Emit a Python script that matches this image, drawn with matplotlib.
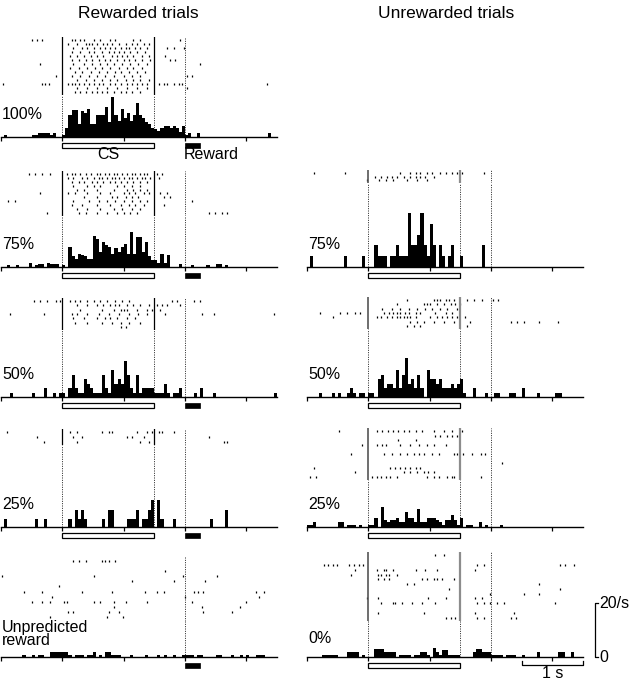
import numpy as np
import matplotlib
matplotlib.use("Agg")
import matplotlib.pyplot as plt
from matplotlib.patches import Rectangle

plt.rcParams['font.family'] = ['Liberation Sans', 'DejaVu Sans']

W, H = 631, 682
PX_PER_RATE = 2.7          # 20 spikes/s = 54 px
BIN = 0.05                 # 50 ms PSTH bins
T_START, T_END = -1.0, 3.5
CS_ON, CS_OFF, REWARD_T, REWARD_DUR = 0.0, 1.5, 2.0, 0.24

# -------------------------------------------------------------
# PSTH rates (spikes/s), 90 bins of 50 ms from -1 s to 3.5 s
# -------------------------------------------------------------
rates_rew_100 = [0, 0.7, 0, 0, 0, 0, 0, 0, 0, 0,
                 0.7, 0.7, 1.5, 1.5, 1.5, 1.5, 0.7, 1.5, 0, 0,
                 0.7, 3.5, 8, 10, 10, 5, 9.5, 9, 10.5, 5,
                 5, 8.3, 8.3, 8.3, 11, 5.5, 15, 8, 6, 10.5,
                 7, 9, 6, 8, 12.5, 8, 7, 5.5, 5, 3.5,
                 3, 2.3, 3.5, 4, 4, 3.5, 4, 3.5, 2, 4,
                 0.7, 1.5, 0, 0, 1.5, 0, 0, 0, 0, 0,
                 0, 0, 0, 0, 0, 0, 0, 0, 0, 0,
                 0, 0, 0, 0, 0, 0, 0, 1.5, 0, 0]
rates_rew_75 = [0, 0, 0.7, 0, 0, 0.7, 0, 0, 0, 1.5,
                0, 0.7, 1, 1, 0, 1.5, 1, 1, 1, 0,
                0.7, 0, 7.4, 4, 3, 5, 4.5, 4, 3, 3,
                11.6, 10.5, 5.5, 9.3, 8, 7.5, 5, 7, 5.5, 7.5,
                8.5, 5, 13, 5, 11, 11, 5.5, 9.3, 4, 2.5,
                2.5, 1.5, 5, 1.5, 4.5, 0, 0, 0, 1, 0,
                0, 0, 0.7, 0, 0, 0, 0, 0.7, 0, 0,
                1, 1, 0, 0.7, 0, 0, 0, 0, 0, 0,
                0, 0, 0, 0, 0, 0, 0, 0, 0, 0]
rates_rew_50 = [0, 0, 0, 1.5, 0, 0, 0, 0, 0, 0,
                1.5, 0, 0, 0, 3.3, 0, 0, 1.5, 0, 1.5,
                1.5, 0, 3.3, 8, 3.3, 1.5, 1.5, 6.7, 4.8, 3.3,
                1.5, 1.5, 1.5, 8, 3.3, 1.5, 10, 4.8, 6.7, 4.8,
                13.5, 8, 3.3, 1.5, 8, 1.5, 3.3, 3.3, 3.3, 3.3,
                1.5, 1.5, 1.5, 4.8, 1.5, 0, 1.5, 1.5, 3.3, 0,
                0, 0, 0, 1.5, 0, 3.3, 0, 0, 0, 1.5,
                0, 0, 0, 0, 0, 0, 0, 0, 0, 0,
                0, 0, 0, 0, 0, 0, 0, 0, 0, 1.5]
rates_rew_25 = [0, 3, 0, 0, 0, 0, 0, 0, 0, 0,
                0, 3, 0, 0, 3, 0, 0, 0, 0, 0,
                0, 0, 3, 0, 6.4, 3, 6.4, 3, 0, 0,
                0, 0, 0, 3, 0, 6.4, 6.4, 0, 0, 0,
                0, 3, 3, 3, 6.4, 0, 3, 3, 6.4, 10,
                0, 10, 3, 0, 0, 0, 3, 0, 0, 0,
                0, 0, 0, 0, 0, 0, 0, 0, 3, 0,
                0, 0, 0, 6.4, 0, 0, 0, 0, 0, 0,
                0, 0, 0, 0, 0, 0, 0, 0, 0, 0]
rates_rew_free = [0, 0, 0, 0, 0, 0, 0, 0.9, 0, 0,
                  0.9, 0, 0.9, 0.9, 0, 0, 1.7, 1.7, 1.7, 1.7,
                  1.7, 1.7, 0.9, 0, 0.9, 0.9, 0.9, 0, 0.9, 0.9,
                  1.7, 0, 0.9, 0, 1.7, 1.7, 0.9, 0.9, 0.9, 0,
                  0, 0, 0.9, 0, 0, 0, 0, 0.9, 0, 0,
                  0, 0.9, 0, 0.9, 0, 0, 0.9, 0, 0, 0.9,
                  0.9, 0.9, 0.9, 0, 0.9, 0.9, 0, 0, 0, 0,
                  0.9, 0.9, 0, 0, 0, 0.9, 0, 0, 0.9, 0,
                  0.9, 0, 0, 0.9, 0.9, 0.9, 0, 0, 0, 0]
rates_unr_75 = [0, 4, 0, 0, 0, 0, 0, 0, 0, 0,
                0, 0, 4, 0, 0, 0, 0, 0, 4, 0,
                0, 0, 8, 4, 4, 4, 0, 4, 4, 8,
                4, 4, 4, 20, 8, 8, 12, 20, 8, 4,
                16, 8, 0, 8, 4, 0, 4, 8, 0, 0,
                4, 0, 0, 0, 0, 0, 0, 8, 0, 0,
                0, 0, 0, 0, 0, 0, 0, 0, 0, 0,
                0, 0, 0, 0, 0, 0, 0, 0, 0, 0,
                0, 0, 0, 0, 0, 0, 0, 0, 0, 0]
rates_unr_50 = [0, 0, 0, 0, 1.5, 0, 0, 0, 1.5, 0,
                1.5, 0, 0, 1.5, 3.3, 1.5, 0, 1.5, 1.5, 0,
                1.5, 1.5, 0, 6.7, 8, 3.3, 4.8, 4.8, 3.3, 10,
                3.3, 8, 14.5, 4.8, 6.7, 3.3, 8, 3.3, 0, 10,
                6.7, 6.7, 4.8, 6.7, 3.3, 3.3, 3.3, 4.8, 3.3, 4.8,
                6.7, 1.5, 0, 0, 3.3, 0, 0, 0, 1.5, 0,
                0, 1.5, 1.5, 0, 0, 0, 1.5, 1.5, 0, 0,
                3.3, 0, 0, 0, 0, 1.5, 0, 0, 0, 0,
                0, 1.5, 1.5, 0, 0, 0, 0, 0, 0, 0]
rates_unr_25 = [0.9, 0.9, 1.7, 0, 0, 0, 0, 0, 0, 0,
                1.7, 1.7, 0, 0.9, 0.9, 0.9, 0, 0.9, 0, 0,
                0.9, 0.9, 3.3, 0, 7.5, 2.5, 1.7, 2.5, 2.5, 3.3,
                1.7, 1.7, 5.5, 3.3, 3.3, 1.7, 6.5, 1.7, 1.7, 3.3,
                3.3, 3.3, 2.5, 1.7, 0.9, 2.5, 2.5, 4.5, 2.5, 0.9,
                3.5, 0, 0.9, 0.9, 0, 0, 1.7, 0, 0.9, 0,
                0, 0, 0, 0.9, 0, 0, 0, 0, 0, 0,
                0, 0, 0, 0, 0, 0, 0, 0, 0, 0,
                0, 0, 0, 0, 0, 0, 0, 0, 0, 0]
rates_unr_0 = [0, 0, 0, 0, 0, 0.9, 0.9, 0.9, 0.9, 0.9,
               0, 0, 0, 1.7, 1.7, 1.7, 1.7, 0, 0.9, 0,
               0, 0, 3, 3, 3, 1.7, 1.7, 1.7, 1.7, 0,
               0.9, 0.9, 0.9, 0.9, 0, 0.9, 0.9, 1.7, 1.7, 0.9,
               0, 3.3, 1.7, 0.9, 2.5, 2.5, 0.9, 0.9, 0.9, 0.9,
               0, 0, 0, 0, 1.7, 3, 3, 1.7, 1.7, 1.7,
               0.9, 0.9, 0.9, 0.9, 0, 0.9, 0.9, 0.9, 0, 0,
               0.9, 0, 0, 0, 0, 1.7, 0, 0, 0, 0,
               0, 0, 1.7, 1.7, 0, 0, 1.7, 0, 0, 0]

# -------------------------------------------------------------
# Raster spike times (s, relative to CS onset), one list per trial
# -------------------------------------------------------------
spikes_rew_100 = [
    [-0.49, -0.41, -0.33, 0.16, 0.21, 0.29, 0.35, 0.51, 0.62, 0.78, 0.86, 1.16, 1.27, 1.92],
    [0.1, 0.24, 0.38, 0.43, 0.48, 0.57, 0.67, 0.73, 0.81, 0.92, 1.03, 1.14, 1.22, 1.33, 1.41],
    [0.18, 0.32, 0.4, 0.51, 0.62, 0.7, 0.78, 0.86, 0.95, 1.03, 1.08, 1.19, 1.27, 1.38, 1.71, 1.82, 1.98],
    [0.16, 0.29, 0.43, 0.51, 0.65, 0.76, 0.84, 0.92, 1.0, 1.11, 1.22, 1.35],
    [0.13, 0.24, 0.35, 0.46, 0.57, 0.67, 0.81, 0.89, 0.97, 1.05, 1.16, 1.3, 1.41, 1.68],
    [0.16, 0.27, 0.38, 0.48, 0.59, 0.7, 0.78, 0.89, 1.0, 1.08, 1.19, 1.3, 1.43, 1.76, 1.84],
    [-0.37, 0.18, 0.35, 0.48, 0.62, 0.73, 0.84, 0.97, 1.11, 1.24, 1.38, 2.25],
    [0.13, 0.27, 0.4, 0.54, 0.65, 0.78, 0.92, 1.05, 1.16, 1.3],
    [0.21, 0.32, 0.46, 0.59, 0.73, 0.86, 0.95, 1.08, 1.22, 1.35],
    [-0.11, 0.16, 0.29, 0.43, 0.57, 0.7, 0.84, 1.0, 1.14, 1.27, 2.03, 2.11],
    [0.24, 0.38, 0.51, 0.65, 0.78, 0.89, 1.03, 1.16, 1.27, 1.41],
    [-0.96, -0.33, -0.28, -0.22, 0.1, 0.16, 0.21, 0.27, 0.35, 0.43, 0.51, 0.59, 0.67, 0.78,
     0.86, 0.95, 1.05, 1.14, 1.22, 1.3, 1.38, 1.57, 1.65, 1.71, 1.82, 1.9, 1.95, 3.34],
    [0.24, 0.4, 0.57, 0.73, 0.89, 1.05, 1.22, 1.38, 2.03],
    [0.21, 0.29, 0.38, 0.48, 0.57, 0.65, 0.73, 0.84, 0.95, 1.03, 1.14, 1.27],
]
spikes_rew_75 = [
    [-0.55, -0.44, -0.33, -0.2, 0.08, 0.16, 0.21, 0.29, 0.38, 0.46, 0.57, 0.62, 0.7, 0.76, 0.84,
     0.89, 0.97, 1.05, 1.14, 1.19, 1.27, 1.33, 1.38, 1.54, 1.63],
    [0.1, 0.18, 0.32, 0.4, 0.51, 0.59, 0.65, 0.73, 0.81, 0.86, 0.92, 1.0, 1.08, 1.14, 1.22,
     1.3, 1.35, 1.43, 1.57],
    [0.16, 0.27, 0.35, 0.48, 0.57, 0.67, 0.78, 0.86, 0.95, 1.05, 1.16, 1.27, 1.38],
    [0.18, 0.4, 0.51, 0.62, 0.89, 1.0, 1.14, 1.27],
    [0.24, 0.35, 0.57, 0.84, 1.05, 1.16, 1.27, 1.38],
    [-0.36, 0.1, 0.21, 0.4, 0.62, 0.78, 1.0, 1.08, 1.19, 1.33, 1.41, 1.6, 1.71],
    [0.35, 0.57, 0.81, 0.89, 1.03, 1.14, 1.24, 1.65, 1.76],
    [-0.88, -0.77, 0.18, 0.43, 0.59, 0.73, 0.86, 1.0, 1.14, 1.27, 1.38, 2.11],
    [0.16, 0.32, 0.57, 0.78, 0.95, 1.08, 1.19, 1.33, 1.65],
    [0.24, 0.4, 0.62, 0.84, 0.97, 1.14, 1.27],
    [-0.25, 0.27, 0.38, 0.57, 0.73, 0.89, 1.0, 1.11, 1.22, 2.39, 2.49, 2.6, 2.68],
]
spikes_rew_50 = [
    [-0.47, -0.36, -0.25, -0.11, -0.03, 0.13, 0.21, 0.29, 0.4, 0.51, 0.62, 0.73, 0.86, 0.97,
     1.08, 1.79, 1.87, 2.14, 2.25],
    [0.24, 0.4, 0.57, 0.67, 0.78, 0.86, 0.92, 1.05, 1.16, 1.27, 1.41, 1.54, 1.63, 1.71, 1.92],
    [0.29, 0.65, 0.84, 0.95, 1.0, 1.05, 1.22, 1.38, 1.46, 1.6],
    [-0.85, -0.3, 0.16, 0.24, 0.4, 0.59, 0.76, 0.92, 1.08, 1.24, 1.38, 1.68, 2.28, 2.47, 3.45],
    [0.18, 0.35, 0.57, 0.7, 0.78, 0.89, 1.05, 1.19],
    [0.21, 0.4, 0.65, 0.81, 0.95, 1.08, 1.27],
    [0.95, 1.03],
]
spikes_rew_25 = [
    [-0.9, 0.13, 0.24, 0.65, 0.76, 0.81, 1.22, 1.38, 1.46, 1.57, 1.63, 1.82],
    [-0.41, 0.18, 0.32, 1.05, 1.14, 1.33, 2.39],
    [-0.3, 0.24, 1.27, 1.41, 2.63, 2.68],
]
spikes_rew_free = [
    [0.18, 0.27, 0.39, 0.65, 0.7, 0.76, 0.86],
    [],
    [1.68],
    [-0.98, 0.51, 1.97, 2.52],
    [1.14, 1.82, 2.33],
    [-0.06],
    [-0.63, -0.33, 0.32, 0.81, 1.35, 1.54, 1.65, 2.14, 2.22, 2.3, 3.15, 3.28],
    [-0.17, 2.0, 3.2],
    [-0.49, -0.33, -0.2, 0.02, 0.08, 0.51, 0.62, 0.84, 1.03, 1.38, 2.11, 3.0],
    [0.84, 2.28, 2.9],
    [0.1, 0.18, 0.76, 0.92, 2.3, 2.77],
    [-0.2, 0.73, 0.99],
]
spikes_unr_75 = [
    [-0.89, -0.38, 0.52, 0.68, 0.77, 0.85, 0.96, 1.04, 1.17, 1.26, 1.36, 1.45, 1.53, 1.88],
    [0.11, 0.2, 0.3, 0.39, 0.47, 0.58, 0.68, 0.77, 0.85, 0.93, 1.07],
    [-0.02, 0.17, 0.28, 0.41, 0.63, 0.79, 0.96],
]
spikes_unr_50 = [
    [0.63, 1.07, 1.12, 1.17, 1.26, 1.31, 1.39, 1.61, 1.72, 1.85, 2.04, 2.12],
    [0.47, 0.9, 0.96, 1.01, 1.12, 1.23, 1.34, 1.42, 1.5],
    [0.22, 0.39, 0.52, 0.66, 0.79, 0.93, 1.04, 1.17, 1.28, 1.45],
    [-0.78, -0.46, -0.35, -0.21, -0.13, 0.25, 0.33, 0.41, 0.47, 0.52, 0.6, 0.66, 0.77, 0.85,
     1.09, 1.26, 1.36],
    [-0.57, 0.14, 0.2, 0.3, 0.39, 0.47, 0.52, 0.58, 0.63, 0.68, 0.77, 1.01, 1.12, 1.2, 1.28,
     1.36, 1.45, 1.58],
    [0.68, 0.79, 0.9, 1.07, 1.23, 1.39, 1.66, 2.32, 2.42, 2.54, 2.78, 3.1],
    [0.63, 0.74, 0.85, 1.61],
]
spikes_unr_25 = [
    [-0.48, 0.14, 0.22, 0.32, 0.4, 0.49, 0.58, 0.66, 0.77, 0.88, 1.07, 1.23, 1.36, 1.53],
    [1.09, 1.17, 1.28, 1.36, 1.45],
    [0.49, 0.77],
    [-0.1, 0.14, 0.22, 0.28, 0.52, 0.68, 0.82, 0.96, 1.07, 1.26],
    [],
    [-0.29, 0.25, 0.39, 0.52, 0.63, 0.74, 0.82, 0.9, 1.04, 1.15, 1.39, 1.45, 1.55, 1.69,
     1.83, 1.91],
    [],
    [2.18],
    [-0.89, 0.36, 0.44, 0.52, 0.6, 0.68, 0.77, 0.85],
    [-0.21, 0.58, 0.68, 0.79, 0.9, 0.98, 1.07],
    [-0.95, -0.86, 0.06, 0.14, 0.2, 0.28, 0.36, 0.47, 0.96, 1.07, 1.15, 1.28, 1.36, 1.39, 1.83],
]
spikes_unr_0 = [
    [1.09, 1.23],
    [],
    [-0.73, -0.65, -0.57, -0.51, -0.32, -0.24, -0.16, -0.08, 1.77, 1.88, 3.13, 3.21, 3.35],
    [-0.21, 0.14, 0.25, 0.29, 0.41, 0.77, 0.93, 1.12, 1.74],
    [-0.29, 0.15, 0.2, 0.29, 0.33, 0.46],
    [0.15, 0.25, 0.33, 0.88, 0.96, 1.07, 1.12, 1.2, 1.39],
    [0.63, 0.74, 2.78],
    [1.31, 3.13],
    [1.99, 2.53, 2.78],
    [-0.02, 0.15, 0.98, 1.26, 1.74, 1.85],
    [0.2, 0.41, 0.44, 0.55, 0.71, 0.88, 1.09, 1.77, 1.88, 1.99, 2.1, 2.21, 3.05],
    [],
    [0.15, 0.9, 1.74, 2.37],
    [1.26, 1.34, 1.42, 1.77, 1.88, 2.32, 2.4],
]

# -------------------------------------------------------------
# Panel layout (pixel positions in the 631 x 682 figure)
# -------------------------------------------------------------
LEFT_X, RIGHT_X, PANEL_W = 1, 307, 276

panels = [
    # x0, baseline, raster top, raster bottom, spikes, rates, label, label y, column
    dict(x0=LEFT_X, base=137, rtop=37, rbot=95, spikes=spikes_rew_100, rates=rates_rew_100,
         label="100%", ly=8.5, col="L", cs=True, rew=True, sol=True),
    dict(x0=LEFT_X, base=267, rtop=171, rbot=216, spikes=spikes_rew_75, rates=rates_rew_75,
         label="75%", ly=8.2, col="L", cs=True, rew=True, sol=True),
    dict(x0=LEFT_X, base=397, rtop=298, rbot=330, spikes=spikes_rew_50, rates=rates_rew_50,
         label="50%", ly=8.2, col="L", cs=True, rew=True, sol=True),
    dict(x0=LEFT_X, base=527, rtop=429, rbot=445, spikes=spikes_rew_25, rates=rates_rew_25,
         label="25%", ly=8.2, col="L", cs=True, rew=True, sol=True),
    dict(x0=LEFT_X, base=657, rtop=557, rbot=621, spikes=spikes_rew_free, rates=rates_rew_free,
         label="Unpredicted\nreward", ly=None, col="L", cs=False, rew=True, sol=False),
    dict(x0=RIGHT_X, base=267, rtop=170, rbot=183, spikes=spikes_unr_75, rates=rates_unr_75,
         label="75%", ly=8.2, col="R", cs=True, rew=False, sol=True),
    dict(x0=RIGHT_X, base=397, rtop=297, rbot=329, spikes=spikes_unr_50, rates=rates_unr_50,
         label="50%", ly=8.2, col="R", cs=True, rew=False, sol=True),
    dict(x0=RIGHT_X, base=527, rtop=428, rbot=480, spikes=spikes_unr_25, rates=rates_unr_25,
         label="25%", ly=8.2, col="R", cs=True, rew=False, sol=True),
    dict(x0=RIGHT_X, base=657, rtop=552, rbot=621, spikes=spikes_unr_0, rates=rates_unr_0,
         label="0%", ly=6.9, col="R", cs=True, rew=False, sol=True),
]

FS = 11.5
DOT = (0, (1.2, 1.6))


def px_rect(x0, y0, x1, y1):
    return [x0 / W, 1 - y1 / H, (x1 - x0) / W, (y1 - y0) / H]


fig = plt.figure(figsize=(W / 100, H / 100), dpi=100)

bin_edges = T_START + BIN * np.arange(len(rates_rew_100))

for p in panels:
    x0 = p["x0"]
    # ---------------- raster ----------------
    ax_r = fig.add_axes(px_rect(x0, p["rtop"], x0 + PANEL_W, p["rbot"]))
    n = len(p["spikes"])
    px_per_trial = (p["rbot"] - p["rtop"]) / (n + 0.4)
    ax_r.eventplot(p["spikes"], lineoffsets=np.arange(n), linelengths=2.0 / px_per_trial,
                   linewidths=0.9, colors="black")
    ax_r.set_xlim(T_START, T_END)
    ax_r.set_ylim(n - 0.3, -0.7)
    ax_r.axis("off")
    if p["sol"]:
        if p["col"] == "L":
            ax_r.axvline(CS_ON, color="black", lw=0.9)
            ax_r.axvline(CS_OFF, color="black", lw=0.9)
        else:
            ax_r.axvline(CS_ON, color="#555555", lw=1.2)
            ax_r.axvline(CS_OFF, color="#8c8c8c", lw=1.6)
    ax_r.axvline(REWARD_T, color="black", lw=0.6, ls=DOT)

    # ---------------- PSTH ----------------
    ax_h = fig.add_axes(px_rect(x0, p["rbot"], x0 + PANEL_W, p["base"]))
    ax_h.bar(bin_edges, p["rates"], width=BIN, align="edge", color="black",
             linewidth=0, clip_on=False)
    ax_h.set_xlim(T_START, T_END)
    ax_h.set_ylim(0, (p["base"] - p["rbot"]) / PX_PER_RATE)
    for s in ("left", "right", "top"):
        ax_h.spines[s].set_visible(False)
    ax_h.spines["bottom"].set_linewidth(1.0)
    ax_h.set_xticks([-1, 0, 1, 2, 3])
    ax_h.set_xticklabels([])
    ax_h.set_yticks([])
    ax_h.tick_params(axis="x", length=3, width=0.9, direction="out")
    if p["cs"]:
        ax_h.axvline(CS_ON, color="black", lw=0.6, ls=DOT)
        ax_h.axvline(CS_OFF, color="black", lw=0.6, ls=DOT)
        ax_h.add_patch(Rectangle((CS_ON, -3.9), CS_OFF - CS_ON, 1.6, facecolor="white",
                                 edgecolor="black", lw=0.9, clip_on=False))
    ax_h.axvline(REWARD_T, color="black", lw=0.6, ls=DOT)
    if p["rew"]:
        ax_h.add_patch(Rectangle((REWARD_T, -4.0), REWARD_DUR, 1.8, facecolor="black",
                                 edgecolor="black", lw=0.5, clip_on=False))

    if p["ly"] is None:
        ax_h.text(-0.98, 3.2, p["label"], ha="left", va="bottom", fontsize=FS,
                  linespacing=0.85)
    else:
        ax_h.text(-0.98, p["ly"], p["label"], ha="left", va="center", fontsize=FS)

    if p["label"] == "100%":
        ax_h.text(0.75, -6.4, "CS", ha="center", va="center", fontsize=FS)
        ax_h.text(REWARD_T - 0.02, -6.4, "Reward", ha="left", va="center", fontsize=FS)

    if p["label"] == "0%":
        # scale bars: 20 spikes/s and 1 s
        ax_h.plot([3.74, 3.70, 3.70, 3.74], [20, 20, 0, 0], color="black", lw=0.9,
                  clip_on=False)
        ax_h.text(3.76, 20, "20/s", ha="left", va="center", fontsize=FS)
        ax_h.text(3.76, 0, "0", ha="left", va="center", fontsize=FS)
        ax_h.plot([2.5, 2.5, 3.5, 3.5], [-1.3, -3.0, -3.0, -1.3], color="black", lw=0.9,
                  clip_on=False)
        ax_h.text(3.0, -3.4, "1 s", ha="center", va="top", fontsize=FS)

fig.text(138 / W, 1 - 13 / H, "Rewarded trials", ha="center", va="center", fontsize=12.5)
fig.text(446 / W, 1 - 13 / H, "Unrewarded trials", ha="center", va="center", fontsize=12.5)

fig.savefig("out.png", dpi=100)
